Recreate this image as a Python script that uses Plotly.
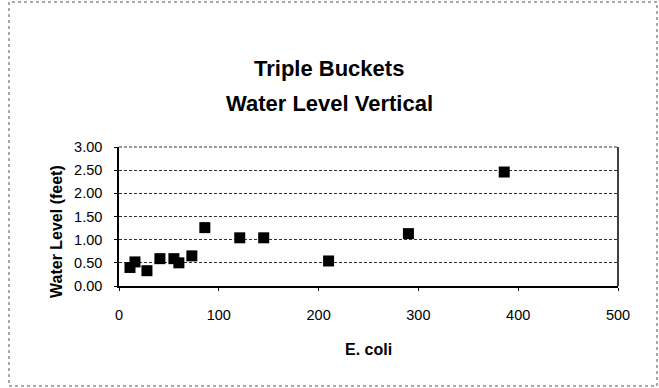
import plotly.graph_objects as go

ecoli = [11, 16, 28, 41, 55, 60, 73, 86, 121, 145, 210, 290, 386]
water_level = [0.40, 0.52, 0.33, 0.59, 0.59, 0.50, 0.65, 1.26, 1.04, 1.04, 0.54, 1.13, 2.46]

title_lines = ["Triple Buckets", "Water Level Vertical"]
x_title = "E. coli"
y_title = "Water Level (feet)"

W, H = 659, 388
ml, mr, mt, mb = 119, 41, 147, 102
pw, ph = W - ml - mr, H - mt - mb

def px_x(p):
    return (p - ml) / pw

def px_y(p):
    return (H - mb - p) / ph

fig = go.Figure(go.Scatter(
    x=ecoli, y=water_level, mode="markers",
    marker=dict(symbol="square", size=11, color="black", line=dict(width=0)),
    hoverinfo="skip",
))

font_family = "Liberation Sans, Arial, sans-serif"

fig.update_layout(
    width=W, height=H,
    margin=dict(l=ml, r=mr, t=mt, b=mb),
    paper_bgcolor="white", plot_bgcolor="white",
    showlegend=False,
    font=dict(family=font_family, color="black", size=14),
    xaxis=dict(
        range=[0, 500], dtick=100, tick0=0, showgrid=False, zeroline=False,
        showline=True, linecolor="black", linewidth=1.5,
        ticks="outside", ticklen=3, tickcolor="black",
        tickfont=dict(size=14.5), ticklabelstandoff=12,
    ),
    yaxis=dict(
        range=[0, 3], dtick=0.5, tick0=0, tickformat=".2f",
        showgrid=True, gridcolor="#333333", griddash="3px,2px", gridwidth=1,
        zeroline=False, showline=True, linecolor="black", linewidth=1.5,
        ticks="outside", ticklen=3, tickcolor="black",
        tickfont=dict(size=14.5), ticklabelstandoff=9,
    ),
)

# plot-area right edge and top edge
fig.add_shape(type="line", xref="paper", yref="paper", x0=1, x1=1, y0=0, y1=1,
              line=dict(color="black", width=1.5))
fig.add_shape(type="line", xref="paper", yref="paper", x0=0, x1=1, y0=1, y1=1,
              line=dict(color="#333333", width=1, dash="3px,2px"))

# outer chart border
fig.add_shape(type="rect", xref="paper", yref="paper",
              x0=px_x(9), x1=px_x(657), y0=px_y(386), y1=px_y(2),
              line=dict(color="#555555", width=1, dash="dot"))

# title (two lines)
for line, yc in zip(title_lines, [69, 103]):
    fig.add_annotation(
        text="<b>%s</b>" % line, xref="paper", yref="paper",
        x=px_x(329), y=px_y(yc), xanchor="center", yanchor="middle",
        showarrow=False, font=dict(size=22, family=font_family),
    )

# axis titles
fig.add_annotation(
    text="<b>%s</b>" % x_title, xref="paper", yref="paper",
    x=px_x(368), y=px_y(349), xanchor="center", yanchor="middle",
    showarrow=False, font=dict(size=16, family=font_family),
)
fig.add_annotation(
    text="<b>%s</b>" % y_title, xref="paper", yref="paper",
    x=px_x(56), y=px_y(232), xanchor="center", yanchor="middle",
    showarrow=False, textangle=-90, font=dict(size=16, family=font_family),
)

fig.write_html("out.html")
